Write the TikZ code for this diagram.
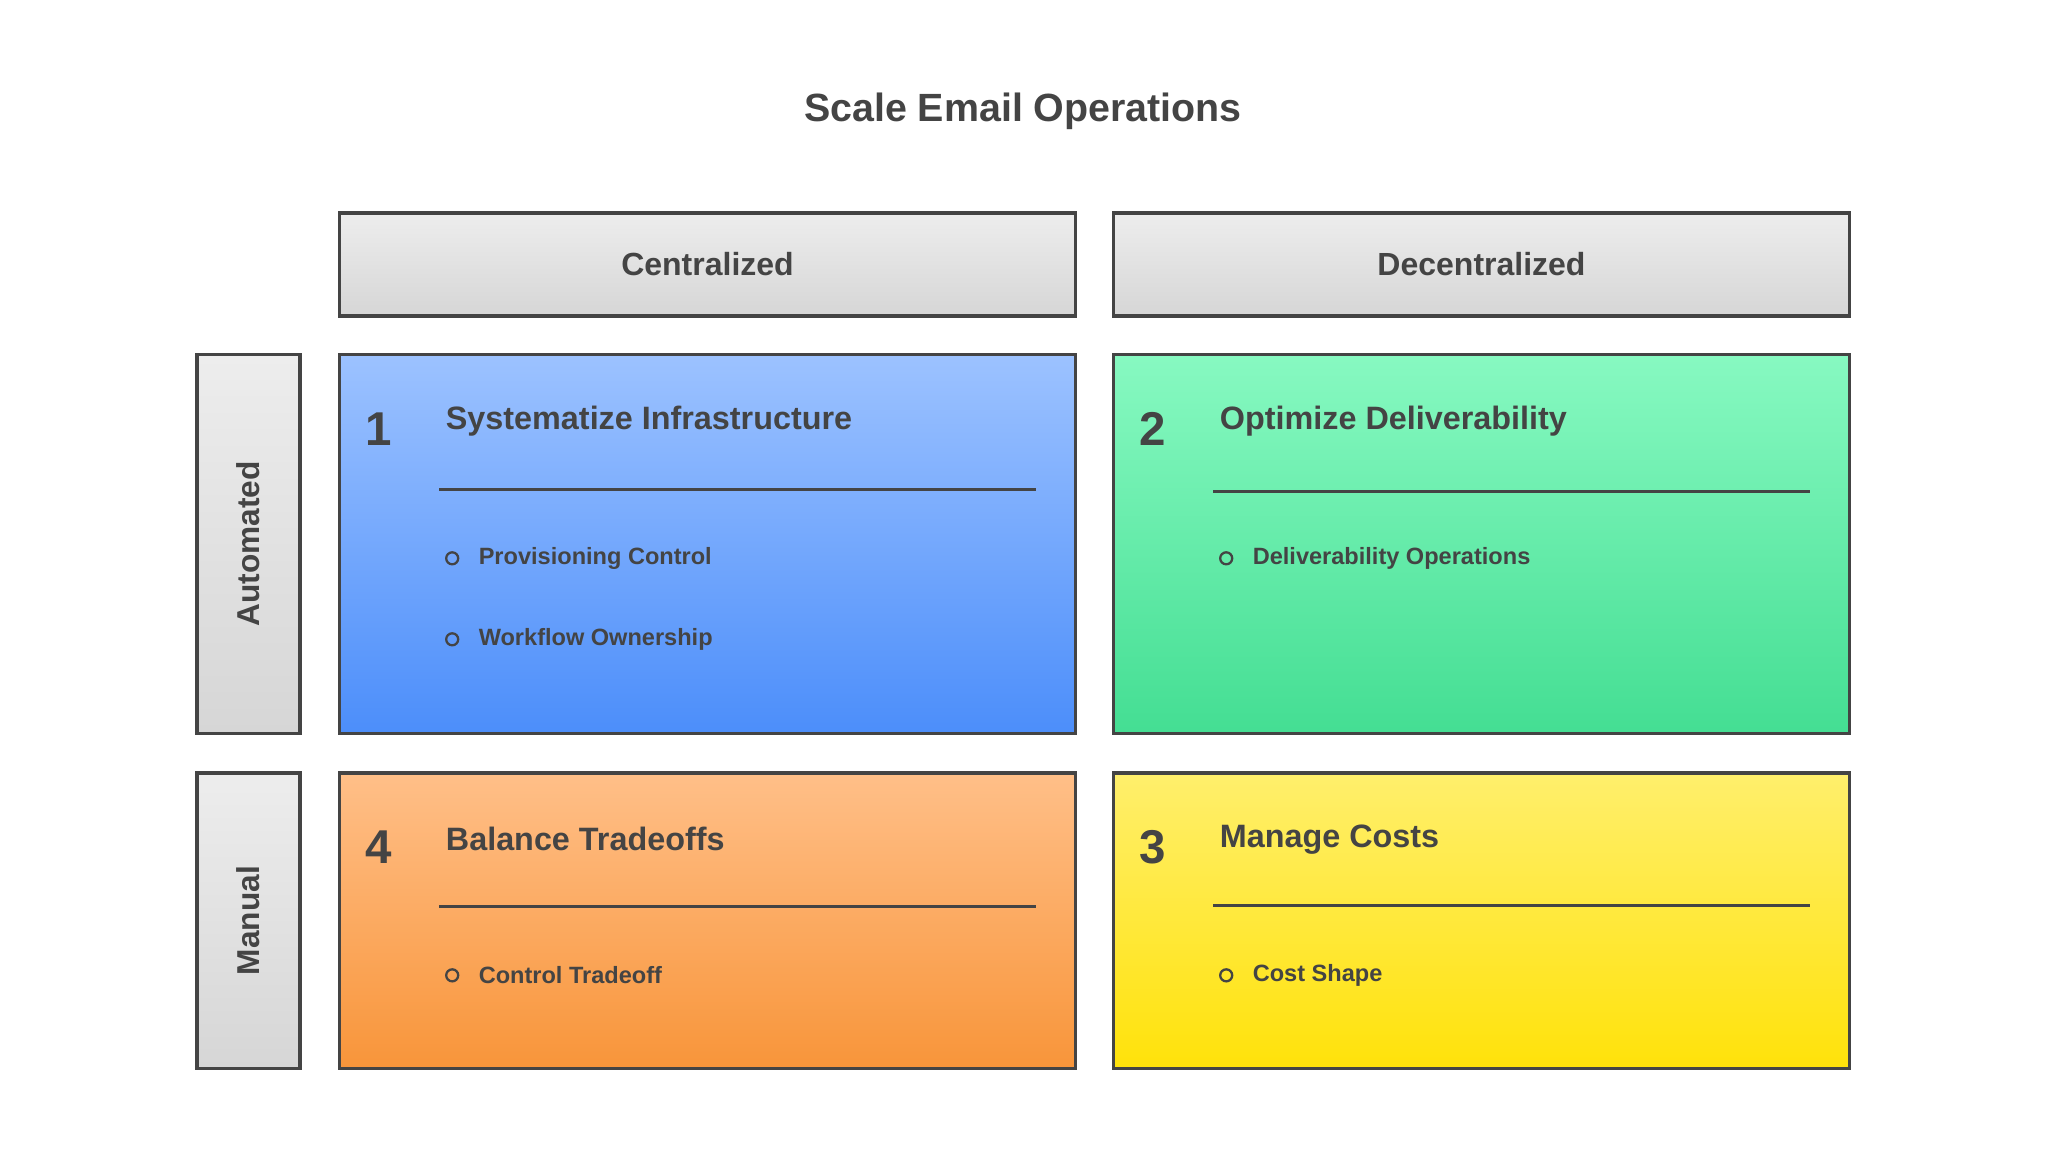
\documentclass[tikz,border=0pt]{standalone}
\usepackage{fontspec}
\setmainfont{Liberation Sans}
\usepackage{tikz}
\usetikzlibrary{positioning,calc}

\definecolor{ink}{HTML}{444444}
\definecolor{hdtop}{HTML}{EDEDED}
\definecolor{hdbot}{HTML}{D6D6D6}
\definecolor{bluetop}{HTML}{9CC2FF}
\definecolor{bluebot}{HTML}{4C8EFA}
\definecolor{greentop}{HTML}{87F9C1}
\definecolor{greenbot}{HTML}{44DE93}
\definecolor{orangetop}{HTML}{FFBF88}
\definecolor{orangebot}{HTML}{F8953A}
\definecolor{yellowtop}{HTML}{FFEF6C}
\definecolor{yellowbot}{HTML}{FFE20A}

\begin{document}
\begin{tikzpicture}[x=0.01cm, y=-0.01cm,
        every node/.style={font=\bfseries, text=ink},
        title/.style={font=\bfseries\fontsize{11.2}{13}\selectfont},
        header/.style={rectangle, draw=ink, line width=0.9pt, top color=hdtop, bottom color=hdbot, minimum width=7.35cm, minimum height=1.03cm, font=\bfseries\fontsize{9.1}{11}\selectfont},
        rowbox/.style={rectangle, draw=ink, line width=0.9pt, top color=hdtop, bottom color=hdbot, minimum width=1.03cm},
        rowtext/.style={rotate=90, font=\bfseries\fontsize{9}{11}\selectfont},
        quad/.style={rectangle, draw=ink, line width=0.9pt, minimum width=7.35cm},
        num/.style={font=\bfseries\fontsize{13.5}{16}\selectfont},
        qtitle/.style={anchor=west, inner sep=0pt, font=\bfseries\fontsize{9.2}{11}\selectfont},
        rule/.style={draw=ink, line width=0.9pt},
        dot/.style={circle, draw=ink, line width=0.65pt, inner sep=0pt, minimum size=0.12cm},
        item/.style={right=0.07cm of #1, font=\bfseries\fontsize{6.7}{8}\selectfont},
    ]
        \useasboundingbox (0,0) rectangle (2048,1151);

        \node[title] (heading) at (1023,111) {Scale Email Operations};

        % column and row headers
        \node[header] (central) at (707.5,264.5) {Centralized};
        \node[header] (decentral) at (1481.5,264.5) {Decentralized};
        \node[rowbox, minimum height=3.78cm] (auto) at (248.5,544) {};
        \node[rowtext] (autotext) at (auto) {Automated};
        \node[rowbox, minimum height=2.95cm] (manual) at (248.5,920.5) {};
        \node[rowtext] (manualtext) at (manual) {Manual};

        % quadrants
        \node[quad, minimum height=3.78cm, top color=bluetop, bottom color=bluebot] (infra) at (707.5,544) {};
        \node[quad, minimum height=3.78cm, top color=greentop, bottom color=greenbot] (deliver) at (1481.5,544) {};
        \node[quad, minimum height=2.95cm, top color=orangetop, bottom color=orangebot] (balance) at (707.5,920.5) {};
        \node[quad, minimum height=2.95cm, top color=yellowtop, bottom color=yellowbot] (costs) at (1481.5,920.5) {};

        % 1
        \node[num] (infranum) at ($(infra.north west)+(40,76)$) {1};
        \node[qtitle] (infratitle) at ($(infra.north west)+(107,68)$) {Systematize Infrastructure};
        \coordinate (infrarulea) at ($(infra.north west)+(101,136)$);
        \coordinate (infraruleb) at ($(infra.north east)+(-41,136)$);
        \draw[rule] (infrarulea) -- (infraruleb);
        \node[dot] (infradota) at ($(infra.north west)+(114,205)$) {};
        \node[item=infradota] (infraitema) {Provisioning Control};
        \node[dot] (infradotb) at ($(infra.north west)+(114,286)$) {};
        \node[item=infradotb] (infraitemb) {Workflow Ownership};

        % 2
        \node[num] (delivernum) at ($(deliver.north west)+(40,76)$) {2};
        \node[qtitle] (delivertitle) at ($(deliver.north west)+(107,68)$) {Optimize Deliverability};
        \coordinate (deliverrulea) at ($(deliver.north west)+(101,138)$);
        \coordinate (deliverruleb) at ($(deliver.north east)+(-41,138)$);
        \draw[rule] (deliverrulea) -- (deliverruleb);
        \node[dot] (deliverdota) at ($(deliver.north west)+(114,205)$) {};
        \node[item=deliverdota] (deliveritema) {Deliverability Operations};

        % 4
        \node[num] (balancenum) at ($(balance.north west)+(40,76)$) {4};
        \node[qtitle] (balancetitle) at ($(balance.north west)+(107,68)$) {Balance Tradeoffs};
        \coordinate (balancerulea) at ($(balance.north west)+(101,135)$);
        \coordinate (balanceruleb) at ($(balance.north east)+(-41,135)$);
        \draw[rule] (balancerulea) -- (balanceruleb);
        \node[dot] (balancedota) at ($(balance.north west)+(114,204)$) {};
        \node[item=balancedota] (balanceitema) {Control Tradeoff};

        % 3
        \node[num] (costsnum) at ($(costs.north west)+(40,76)$) {3};
        \node[qtitle] (coststitle) at ($(costs.north west)+(107,68)$) {Manage Costs};
        \coordinate (costsrulea) at ($(costs.north west)+(101,134)$);
        \coordinate (costsruleb) at ($(costs.north east)+(-41,134)$);
        \draw[rule] (costsrulea) -- (costsruleb);
        \node[dot] (costsdota) at ($(costs.north west)+(114,204)$) {};
        \node[item=costsdota] (costsitema) {Cost Shape};

    \end{tikzpicture}
\end{document}
